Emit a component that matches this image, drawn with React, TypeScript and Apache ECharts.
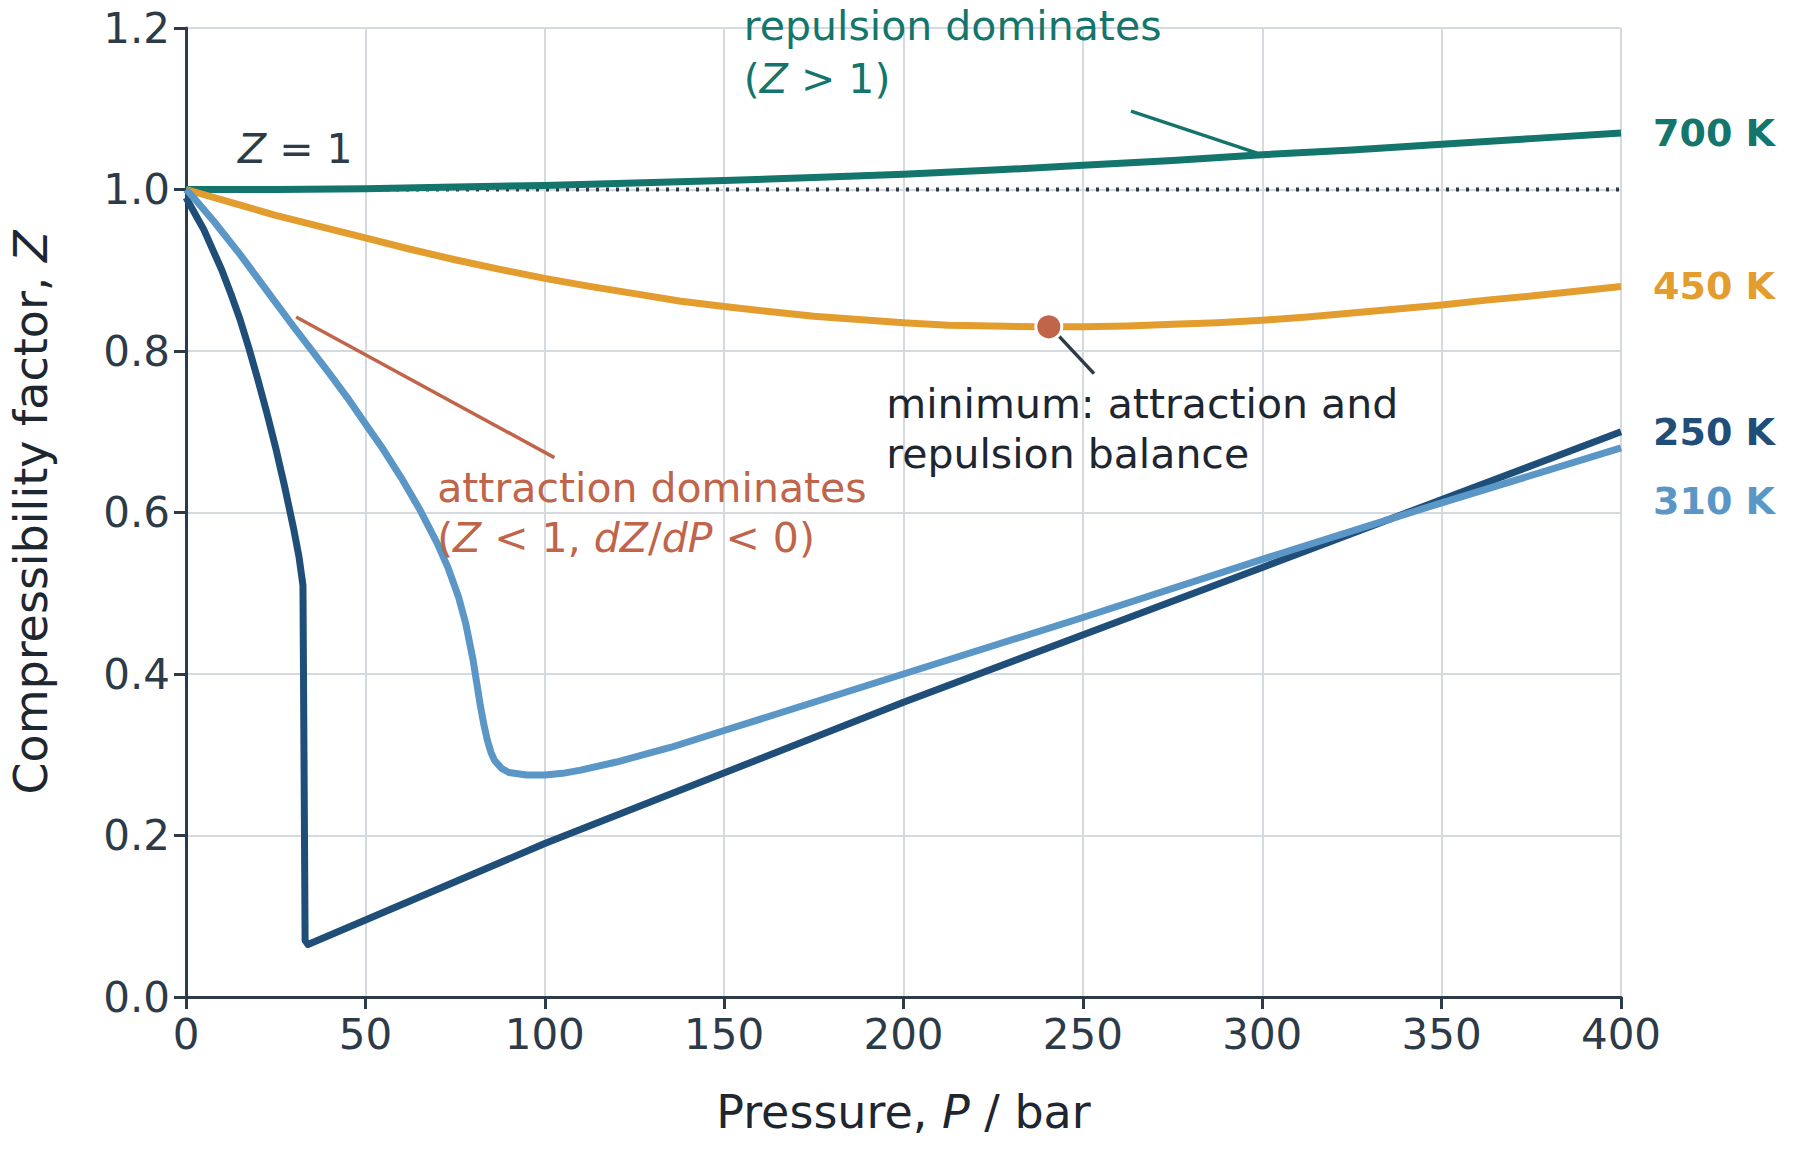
import { useEffect, useRef } from "react";
import * as echarts from "echarts";

const t700: [number, number][] = [[0, 1.0], [25, 1.0], [50, 1.001], [75, 1.003], [100, 1.005], [125, 1.008], [150, 1.011], [175, 1.015], [200, 1.019], [225, 1.024], [250, 1.03], [275, 1.036], [300, 1.043], [325, 1.049], [350, 1.056], [375, 1.063], [400, 1.07]];
const t450: [number, number][] = [[0, 1.0], [12.5, 0.984], [25, 0.968], [37.5, 0.954], [50, 0.94], [62.5, 0.926], [75, 0.913], [87.5, 0.901], [100, 0.89], [112.5, 0.88], [125, 0.871], [137.5, 0.862], [150, 0.855], [162.5, 0.849], [175, 0.843], [187.5, 0.839], [200, 0.835], [212.5, 0.832], [225, 0.831], [237.5, 0.83], [250, 0.83], [262.5, 0.831], [275, 0.833], [287.5, 0.835], [300, 0.838], [312.5, 0.842], [325, 0.847], [337.5, 0.852], [350, 0.857], [362.5, 0.863], [375, 0.868], [387.5, 0.874], [400, 0.88]];
const t310: [number, number][] = [[0, 1.0], [2.5, 0.988], [5, 0.975], [7.5, 0.962], [10, 0.948], [15, 0.92], [20, 0.89], [25, 0.86], [30, 0.83], [35, 0.801], [40, 0.772], [45, 0.742], [50, 0.71], [55, 0.678], [60, 0.643], [65, 0.605], [70, 0.562], [73, 0.532], [76, 0.495], [78, 0.462], [80, 0.418], [81, 0.39], [82, 0.362], [83, 0.338], [84, 0.318], [85, 0.303], [86, 0.293], [88, 0.283], [90, 0.278], [95, 0.275], [100, 0.275], [105, 0.277], [110, 0.281], [120, 0.291], [135, 0.309], [150, 0.33], [175, 0.365], [200, 0.4], [250, 0.47], [300, 0.542], [350, 0.612], [400, 0.68]];
const t250: [number, number][] = [[0, 0.99], [2.5, 0.97], [5, 0.95], [7.5, 0.925], [10, 0.9], [12.5, 0.871], [15, 0.84], [17.5, 0.804], [20, 0.765], [22.5, 0.724], [25, 0.68], [27.5, 0.632], [30, 0.58], [31.5, 0.545], [32.6, 0.51], [33.2, 0.07], [34, 0.065], [100, 0.19], [200, 0.365], [300, 0.532], [400, 0.7]];
const xTicks = [0, 50, 100, 150, 200, 250, 300, 350, 400];
const minPoint: [number, number] = [240.5, 0.83];

const C700 = "#13756b";
const C450 = "#e39d2f";
const C250 = "#1f4e79";
const C310 = "#5a96c6";
const RED = "#c0654a";
const DARK = "#2d3a48";
const FONT = "DejaVu Sans";

const rich = (color: string) => ({
  i: { fontStyle: "italic" as const, fontSize: 41, color, fontFamily: FONT },
  n: { fontSize: 41, color, fontFamily: FONT },
});

function textSeries(x: number, y: number, text: string, color: string) {
  return {
    type: "scatter",
    data: [[x, y]],
    symbolSize: 0,
    silent: true,
    clip: false,
    z: 10,
    itemStyle: { opacity: 1 },
    label: {
      show: true,
      position: "right",
      distance: 0,
      opacity: 1,
      formatter: text,
      rich: rich(color),
    },
  };
}

function annLine(pts: [number, number][], color: string) {
  return { type: "line", data: pts, symbol: "none", lineStyle: { color, width: 3.5 }, silent: true, z: 3 };
}

function curve(data: [number, number][], color: string, name: string, offsetY = 0) {
  return {
    type: "line",
    data,
    symbol: "none",
    lineStyle: { color, width: 7, join: "round" },
    z: 5,
    endLabel: {
      show: true,
      formatter: name,
      color,
      fontWeight: "bold",
      fontSize: 38,
      fontFamily: FONT,
      distance: 32,
      offset: [0, offsetY],
    },
  };
}

const axisName = { n: { fontSize: 46, color: "#1e2630", fontFamily: FONT }, i: { fontSize: 46, fontStyle: "italic" as const, color: "#1e2630", fontFamily: FONT } };

export default function App() {
  const ref = useRef<HTMLDivElement>(null);
  useEffect(() => {
    if (!ref.current) return undefined;
    const chart = echarts.init(ref.current, undefined, { renderer: "svg" });
    chart.setOption({
      animation: false,
      backgroundColor: "#fff",
      grid: { left: 186, right: 179, top: 28, bottom: 153, outerBoundsMode: "none", containLabel: false },
      xAxis: {
        type: "value",
        min: 0,
        max: 400,
        interval: 50,
        name: "{n|Pressure, }{i|P}{n| / bar}",
        nameLocation: "middle",
        nameGap: 92,
        nameTextStyle: { rich: axisName },
        axisLine: { lineStyle: { color: DARK, width: 3 } },
        axisTick: { show: true, length: 12, lineStyle: { color: DARK, width: 3 } },
        axisLabel: { color: DARK, fontSize: 42, fontFamily: FONT, margin: 16, formatter: (v: number) => (xTicks.includes(v) ? String(v) : "") },
        splitLine: { show: true, lineStyle: { color: "#d5dadf", width: 2 } },
      },
      yAxis: {
        type: "value",
        min: 0,
        max: 1.2,
        interval: 0.2,
        name: "{n|Compressibility factor, }{i|Z}",
        nameLocation: "middle",
        nameGap: 132,
        nameTextStyle: { rich: axisName },
        axisLine: { show: true, lineStyle: { color: DARK, width: 3 } },
        axisTick: { show: true, length: 12, lineStyle: { color: DARK, width: 3 } },
        axisLabel: { color: DARK, fontSize: 42, fontFamily: FONT, margin: 16, formatter: (v: number) => v.toFixed(1) },
        splitLine: { show: true, lineStyle: { color: "#d5dadf", width: 2 } },
      },
      series: [
        { type: "line", data: [[0, 1], [400, 1]], symbol: "none", lineStyle: { color: DARK, width: 4, type: [3, 7] }, z: 4, silent: true },
        curve(t700, C700, "700 K"),
        curve(t450, C450, "450 K"),
        curve(t250, C250, "250 K"),
        curve(t310, C310, "310 K", 53),
        annLine([[263.4, 1.097], [298.6, 1.045]], C700),
        annLine([[30.7, 0.842], [102.7, 0.668]], RED),
        annLine([[243.2, 0.819], [253.1, 0.772]], DARK),
        { type: "scatter", data: [minPoint], symbolSize: 26, itemStyle: { color: RED, opacity: 1, borderColor: "#fff", borderWidth: 3 }, z: 8 },
        textSeries(155.5, 1.203, "{n|repulsion dominates}", C700),
        textSeries(155.5, 1.137, "{n|(}{i|Z}{n| > 1)}", C700),
        textSeries(14.5, 1.05, "{i|Z}{n| = 1}", DARK),
        textSeries(70, 0.63, "{n|attraction dominates}", RED),
        textSeries(70, 0.569, "{n|(}{i|Z}{n| < 1, }{i|dZ}{n|/}{i|dP}{n| < 0)}", RED),
        textSeries(195.2, 0.734, "{n|minimum: attraction and}", "#1e2630"),
        textSeries(195.2, 0.672, "{n|repulsion balance}", "#1e2630"),
      ],
    });
    return () => chart.dispose();
  }, []);
  return <div ref={ref} style={{ width: 1800, height: 1150, margin: -8 }} />;
}
